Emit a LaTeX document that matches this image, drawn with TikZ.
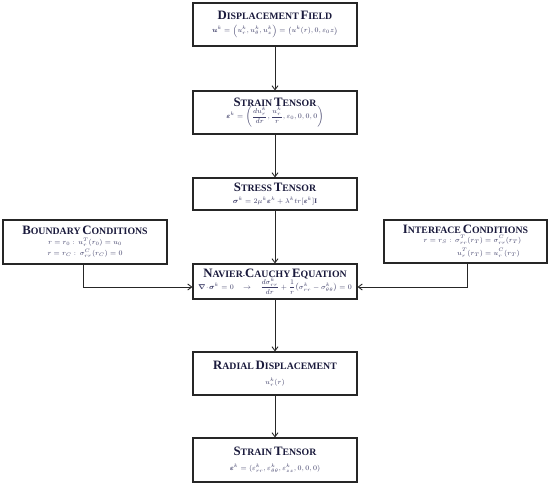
\documentclass[tikz,border=0pt]{standalone}
\usepackage{amsmath}
\usepackage{bm}
\usepackage{fontspec}
\setmainfont{Liberation Serif}
\usetikzlibrary{arrows.meta}
\definecolor{titlec}{RGB}{26,26,60}
\definecolor{mathc}{RGB}{62,62,104}
\definecolor{linec}{RGB}{38,38,38}
\newcommand{\SCap}[2]{{\fontsize{12.8}{13}\selectfont #1}{\fontsize{9.8}{11}\selectfont #2}}
\newcommand{\ttl}[1]{{\color{titlec}\bfseries #1}}
\begin{document}
\begin{tikzpicture}[x=1pt,y=-1pt,
  box/.style={draw=linec, line width=1.1pt, minimum width=164pt, inner sep=1pt, align=center, fill=white, font=\fontsize{7}{10}\selectfont, text=mathc},
  arr/.style={draw=linec, line width=0.9pt, -{Straight Barb[length=4pt,width=6pt]}}]
\useasboundingbox (0,0) rectangle (550,486);

\node[box, minimum height=43pt] (df) at (275,24.5) {\ttl{\SCap{D}{ISPLACEMENT} \SCap{F}{IELD}}\\[3pt]
  $\bm{u}^k=\left(u_r^k,u_\theta^k,u_z^k\right)=\bigl(u^k(r),0,\varepsilon_0 z\bigr)$};

\node[box, minimum height=43pt] (st1) at (275,112.5) {\ttl{\SCap{S}{TRAIN} \SCap{T}{ENSOR}}\\[-1pt]
  $\bm{\varepsilon}^k=\left(\dfrac{du_r^k}{dr},\dfrac{u_r^k}{r},\varepsilon_0,0,0,0\right)$};

\node[box, minimum height=32pt] (sst) at (275,194) {\ttl{\SCap{S}{TRESS} \SCap{T}{ENSOR}}\\[2pt]
  $\bm{\sigma}^k=2\mu^k\bm{\varepsilon}^k+\lambda^k tr[\bm{\varepsilon}^k]\mathbf{I}$};

\node[box, minimum height=44pt] (bc) at (85,242) {\ttl{\SCap{B}{OUNDARY} \SCap{C}{ONDITIONS}}\\[0pt]
  $r=r_0:\,u_r^T(r_0)=u_0$\\[1pt]
  $r=r_C:\,\sigma_{rr}^C(r_C)=0$};

\node[box, minimum height=43pt, minimum width=163pt] (ic) at (465.5,241.5) {\ttl{\SCap{I}{NTERFACE} \SCap{C}{ONDITIONS}}\\[1pt]
  \hspace*{14pt}$\begin{aligned}r=r_S:\,\sigma_{rr}^T(r_T)&=\sigma_{rr}^C(r_T)\\[0pt] u_r^T(r_T)&=u_r^C(r_T)\end{aligned}$};

\node[box, minimum height=35pt] (nc) at (275,281.5) {\ttl{\SCap{N}{AVIER}-\SCap{C}{AUCHY} \SCap{E}{QUATION}}\\[-2pt]
  $\bm{\nabla}\!\cdot\!\bm{\sigma}^k=0\quad\rightarrow\quad\dfrac{d\sigma_{rr}^k}{dr}+\dfrac{1}{r}\bigl(\sigma_{rr}^k-\sigma_{\theta\theta}^k\bigr)=0$};

\node[box, minimum height=43pt] (rd) at (275,373.5) {\ttl{\SCap{R}{ADIAL} \SCap{D}{ISPLACEMENT}}\\[5pt]
  $u_r^k(r)$};

\node[box, minimum height=44pt] (st2) at (275,460) {\ttl{\SCap{S}{TRAIN} \SCap{T}{ENSOR}}\\[5pt]
  $\bm{\varepsilon}^k=(\varepsilon_{rr}^k,\varepsilon_{\theta\theta}^k,\varepsilon_{zz}^k,0,0,0)$};

\coordinate (bcx) at (83,287);
\coordinate (icx) at (467,287);

\draw[arr] (df) -- (st1);
\draw[arr] (st1) -- (sst);
\draw[arr] (sst) -- (nc);
\draw[arr] (nc) -- (rd);
\draw[arr] (rd) -- (st2);
\draw[arr] (bc.south -| bcx) |- (nc.west |- bcx);
\draw[arr] (ic.south -| icx) |- (nc.east |- icx);
\end{tikzpicture}
\end{document}
